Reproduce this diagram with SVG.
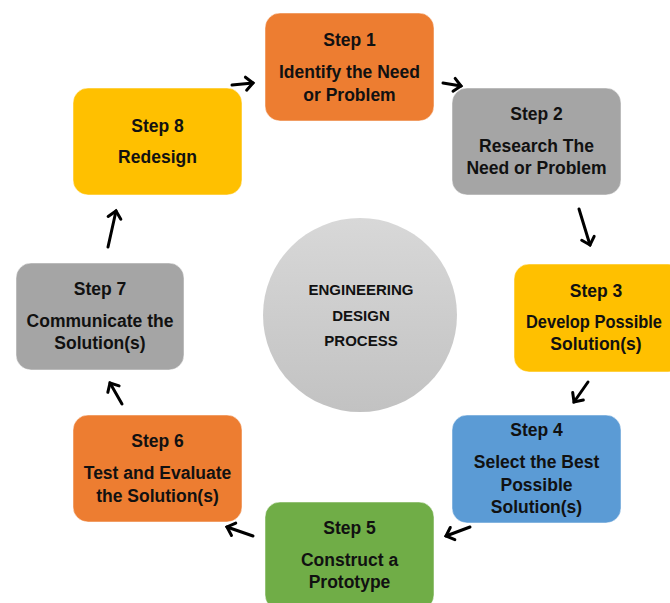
<svg xmlns="http://www.w3.org/2000/svg" width="670" height="603" viewBox="0 0 670 603">
<style>
.box{stroke:#ffffff;stroke-opacity:0.5;stroke-width:1}
.t{font-family:"Liberation Sans",Arial,sans-serif;font-weight:bold;font-size:17.5px;fill:#111;text-anchor:middle}
.c{font-family:"Liberation Sans",Arial,sans-serif;font-weight:bold;font-size:15px;fill:#111;text-anchor:middle}
.arr{fill:none;stroke:#000;stroke-width:3;stroke-linecap:round;marker-end:url(#ah)}
</style>
<defs>
<marker id="ah" markerUnits="userSpaceOnUse" markerWidth="20" markerHeight="20" viewBox="0 0 20 20" refX="10" refY="10" orient="auto" overflow="visible">
<path d="M3,3.5 L10,10 L3,16.5" fill="none" stroke="#000" stroke-width="3" stroke-linecap="round" stroke-linejoin="miter"/>
</marker>
<linearGradient id="cg" x1="0" y1="0" x2="0" y2="1">
<stop offset="0" stop-color="#d8d8d8"/>
<stop offset="1" stop-color="#c2c2c2"/>
</linearGradient>
</defs>
<rect width="670" height="603" fill="#ffffff"/>
<g id="center">
<circle cx="360" cy="315" r="97" fill="url(#cg)"/>
<text class="c" x="361" y="295">ENGINEERING</text>
<text class="c" x="361" y="321">DESIGN</text>
<text class="c" x="361" y="346">PROCESS</text>
</g>
<g id="step1">
<rect class="box" x="265" y="13" width="169" height="108" rx="15" fill="#ED7D31"/>
<text class="t" x="349.5" y="46">Step 1</text>
<text class="t" x="349.5" y="78">Identify the Need</text>
<text class="t" x="349.5" y="101">or Problem</text>
</g>
<g id="step2">
<rect class="box" x="452" y="88" width="169" height="107" rx="15" fill="#A5A5A5"/>
<text class="t" x="536.5" y="120">Step 2</text>
<text class="t" x="536.5" y="152">Research The</text>
<text class="t" x="536.5" y="174">Need or Problem</text>
</g>
<g id="step3">
<rect class="box" x="514" y="264" width="169" height="108" rx="15" fill="#FFC000"/>
<text class="t" x="596" y="297">Step 3</text>
<text class="t" x="594" y="328" textLength="136" lengthAdjust="spacingAndGlyphs">Develop Possible</text>
<text class="t" x="596" y="350">Solution(s)</text>
</g>
<g id="step4">
<rect class="box" x="452" y="415" width="169" height="108" rx="15" fill="#5B9BD5"/>
<text class="t" x="536.5" y="436">Step 4</text>
<text class="t" x="536.5" y="468">Select the Best</text>
<text class="t" x="536.5" y="491">Possible</text>
<text class="t" x="536.5" y="513">Solution(s)</text>
</g>
<g id="step5">
<rect class="box" x="265" y="502" width="169" height="108" rx="15" fill="#70AD47"/>
<text class="t" x="349.5" y="534">Step 5</text>
<text class="t" x="349.5" y="566">Construct a</text>
<text class="t" x="349.5" y="588">Prototype</text>
</g>
<g id="step6">
<rect class="box" x="73" y="415" width="169" height="107" rx="15" fill="#ED7D31"/>
<text class="t" x="157.5" y="447">Step 6</text>
<text class="t" x="157.5" y="479">Test and Evaluate</text>
<text class="t" x="157.5" y="502">the Solution(s)</text>
</g>
<g id="step7">
<rect class="box" x="16" y="263" width="168" height="107" rx="15" fill="#A5A5A5"/>
<text class="t" x="100" y="295">Step 7</text>
<text class="t" x="100" y="327">Communicate the</text>
<text class="t" x="100" y="349">Solution(s)</text>
</g>
<g id="step8">
<rect class="box" x="73" y="88" width="169" height="107" rx="15" fill="#FFC000"/>
<text class="t" x="157.5" y="132">Step 8</text>
<text class="t" x="157.5" y="163">Redesign</text>
</g>
<g id="connectors">
<path class="arr" d="M232,85 L253,83"/>
<path class="arr" d="M443,83 L461,86"/>
<path class="arr" d="M579,209 L590,245"/>
<path class="arr" d="M588,382 L574,402"/>
<path class="arr" d="M470,527 L446,536"/>
<path class="arr" d="M253,536 L227,527"/>
<path class="arr" d="M122,404 L110,383"/>
<path class="arr" d="M108,247 L116,211"/>
</g>
</svg>
